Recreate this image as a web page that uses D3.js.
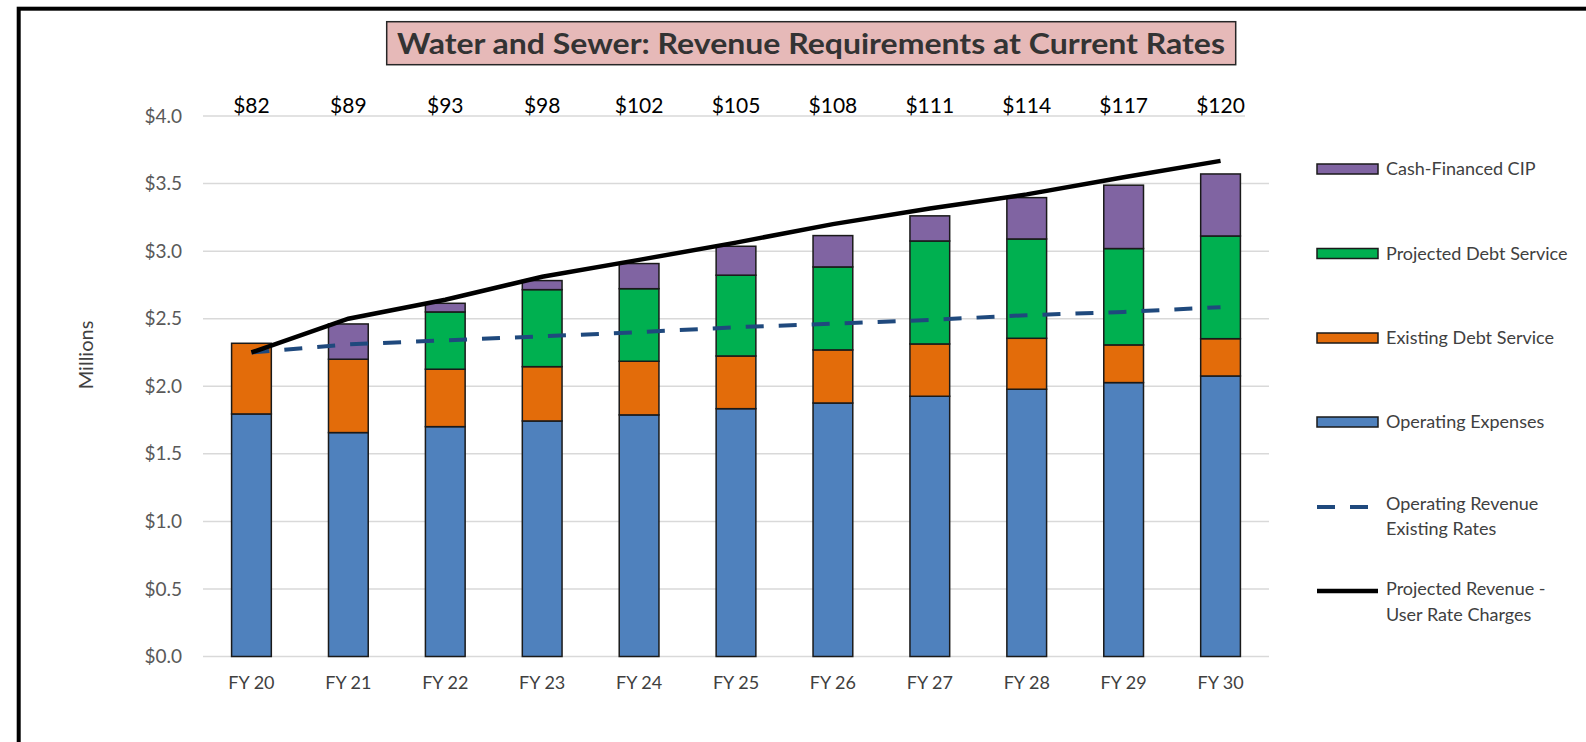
<!DOCTYPE html>
<html>
<head>
<meta charset="utf-8">
<script src="https://cdn.jsdelivr.net/npm/d3@7"></script>
<style>
    body { margin: 0; background: #fff; }
    svg text { font-family: Lato, "Open Sans", sans-serif; }
</style>
</head>
<body>
<svg id="chart"></svg>
<script>
// ---- data (millions) ----
var years = ["FY 20", "FY 21", "FY 22", "FY 23", "FY 24", "FY 25", "FY 26", "FY 27", "FY 28", "FY 29", "FY 30"];
var operatingExpenses = [1.795, 1.657, 1.701, 1.743, 1.788, 1.834, 1.876, 1.926, 1.978, 2.027, 2.076];
var existingDebtService = [0.523, 0.543, 0.425, 0.402, 0.397, 0.390, 0.393, 0.387, 0.377, 0.279, 0.276];
var projectedDebtService = [0, 0, 0.424, 0.570, 0.537, 0.598, 0.614, 0.762, 0.735, 0.713, 0.760];
var cashFinancedCIP = [0, 0.261, 0.064, 0.067, 0.186, 0.214, 0.232, 0.186, 0.306, 0.469, 0.459];
var operatingRevenueExisting = [2.25, 2.31, 2.34, 2.37, 2.40, 2.437, 2.463, 2.491, 2.526, 2.55, 2.585];
var projectedRevenueUser = [2.25, 2.50, 2.64, 2.81, 2.935, 3.063, 3.20, 3.315, 3.42, 3.547, 3.668];
var topLabels = [82, 89, 93, 98, 102, 105, 108, 111, 114, 117, 120];
var yTicks = [0, 0.5, 1.0, 1.5, 2.0, 2.5, 3.0, 3.5, 4.0];

var seriesNames = ["Operating Expenses", "Existing Debt Service", "Projected Debt Service", "Cash-Financed CIP"];
var seriesColors = ["#4f81bd", "#e36c0a", "#00b050", "#8064a2"];

var width = 1586, height = 742;
var plot = { left: 203, right: 1269, top: 116, bottom: 656.5 };

var svg = d3.select("#chart")
    .attr("width", width)
    .attr("height", height);

// outer chart border (runs off the right / bottom edge)
svg.append("rect")
    .attr("x", 18.7)
    .attr("y", 8.7)
    .attr("width", width + 40)
    .attr("height", height + 40)
    .attr("fill", "none")
    .attr("stroke", "#000")
    .attr("stroke-width", 4);

var x = d3.scaleBand()
    .domain(years)
    .range([plot.left, plot.right])
    .paddingInner(0.59)
    .paddingOuter(0.295);

var y = d3.scaleLinear()
    .domain([0, 4])
    .range([plot.bottom, plot.top]);

// gridlines
svg.append("g")
    .selectAll("line")
    .data(yTicks)
    .enter().append("line")
    .attr("x1", plot.left)
    .attr("x2", function (d) { return d === 4 ? plot.right - 24 : plot.right; })
    .attr("y1", function (d) { return y(d); })
    .attr("y2", function (d) { return y(d); })
    .attr("stroke", "#d9d9d9")
    .attr("stroke-width", 1.5);

// y axis labels
var yAxis = svg.append("g")
    .attr("transform", "translate(" + plot.left + ",0)")
    .call(d3.axisLeft(y).tickValues(yTicks).tickSize(0).tickPadding(21)
        .tickFormat(function (d) { return "$" + d.toFixed(1); }));
yAxis.select(".domain").remove();
yAxis.selectAll("text")
    .style("font-size", "19px")
    .style("fill", "#595959");

// x axis labels
var xAxis = svg.append("g")
    .attr("transform", "translate(0," + plot.bottom + ")")
    .call(d3.axisBottom(x).tickSize(0).tickPadding(20));
xAxis.select(".domain").remove();
xAxis.selectAll("text")
    .style("font-size", "18px")
    .style("fill", "#404040");

// y title
svg.append("text")
    .attr("transform", "translate(93,355) rotate(-90)")
    .attr("text-anchor", "middle")
    .style("font-size", "20px")
    .style("fill", "#404040")
    .text("Millions");

// stacked bars
var rows = years.map(function (yr, i) {
    return {
        year: yr,
        "Operating Expenses": operatingExpenses[i],
        "Existing Debt Service": existingDebtService[i],
        "Projected Debt Service": projectedDebtService[i],
        "Cash-Financed CIP": cashFinancedCIP[i]
    };
});
var stacked = d3.stack().keys(seriesNames)(rows);

svg.append("g")
    .selectAll("g")
    .data(stacked)
    .enter().append("g")
    .attr("fill", function (d, i) { return seriesColors[i]; })
    .selectAll("rect")
    .data(function (d) { return d.filter(function (s) { return s[1] - s[0] > 0; }); })
    .enter().append("rect")
    .attr("x", function (d) { return x(d.data.year); })
    .attr("y", function (d) { return y(d[1]); })
    .attr("width", x.bandwidth())
    .attr("height", function (d) { return y(d[0]) - y(d[1]); })
    .attr("stroke", "#1a1a1a")
    .attr("stroke-width", 1.5);

// lines
var line = function (vals) {
    return d3.line()
        .x(function (d, i) { return x(years[i]) + x.bandwidth() / 2; })
        .y(function (d) { return y(d); })(vals);
};

svg.append("path")
    .attr("d", line(operatingRevenueExisting))
    .attr("fill", "none")
    .attr("stroke", "#1f497d")
    .attr("stroke-width", 4)
    .attr("stroke-dasharray", "18,15");

svg.append("path")
    .attr("d", line(projectedRevenueUser))
    .attr("fill", "none")
    .attr("stroke", "#000")
    .attr("stroke-width", 4.5);

// labels above the plot
svg.append("g")
    .selectAll("text")
    .data(topLabels)
    .enter().append("text")
    .attr("x", function (d, i) { return x(years[i]) + x.bandwidth() / 2; })
    .attr("y", y(4) - 3)
    .attr("text-anchor", "middle")
    .style("font-size", "21px")
    .style("fill", "#000")
    .text(function (d) { return "$" + d; });

// title
svg.append("rect")
    .attr("x", 386.7)
    .attr("y", 21.7)
    .attr("width", 849)
    .attr("height", 43)
    .attr("fill", "#e6b9b8")
    .attr("stroke", "#262626")
    .attr("stroke-width", 1.5);

svg.append("text")
    .attr("x", 811)
    .attr("y", 53.5)
    .attr("text-anchor", "middle")
    .attr("textLength", 828)
    .attr("lengthAdjust", "spacingAndGlyphs")
    .style("font-size", "28px")
    .style("font-weight", "bold")
    .style("fill", "#333")
    .text("Water and Sewer: Revenue Requirements at Current Rates");

// legend
var legend = svg.append("g").attr("transform", "translate(1317,0)");
var boxItems = [
    { name: "Cash-Financed CIP", color: seriesColors[3], y: 169 },
    { name: "Projected Debt Service", color: seriesColors[2], y: 253.5 },
    { name: "Existing Debt Service", color: seriesColors[1], y: 338 },
    { name: "Operating Expenses", color: seriesColors[0], y: 422 }
];

boxItems.forEach(function (it) {
    legend.append("rect")
        .attr("x", 0)
        .attr("y", it.y - 5)
        .attr("width", 61)
        .attr("height", 10)
        .attr("fill", it.color)
        .attr("stroke", "#1a1a1a")
        .attr("stroke-width", 1.5);
    legend.append("text")
        .attr("x", 69)
        .attr("y", it.y)
        .attr("dy", "0.35em")
        .style("font-size", "18px")
        .style("fill", "#404040")
        .text(it.name);
});

legend.append("line")
    .attr("x1", 0).attr("x2", 61)
    .attr("y1", 507).attr("y2", 507)
    .attr("stroke", "#1f497d")
    .attr("stroke-width", 4)
    .attr("stroke-dasharray", "18,15");
legend.append("line")
    .attr("x1", 0).attr("x2", 61)
    .attr("y1", 591).attr("y2", 591)
    .attr("stroke", "#000")
    .attr("stroke-width", 4.5);

[["Operating Revenue", 504], ["Existing Rates", 529], ["Projected Revenue -", 589], ["User Rate Charges", 615]]
    .forEach(function (t) {
        legend.append("text")
            .attr("x", 69)
            .attr("y", t[1])
            .attr("dy", "0.35em")
            .style("font-size", "18px")
            .style("fill", "#404040")
            .text(t[0]);
    });
</script>
</body>
</html>
